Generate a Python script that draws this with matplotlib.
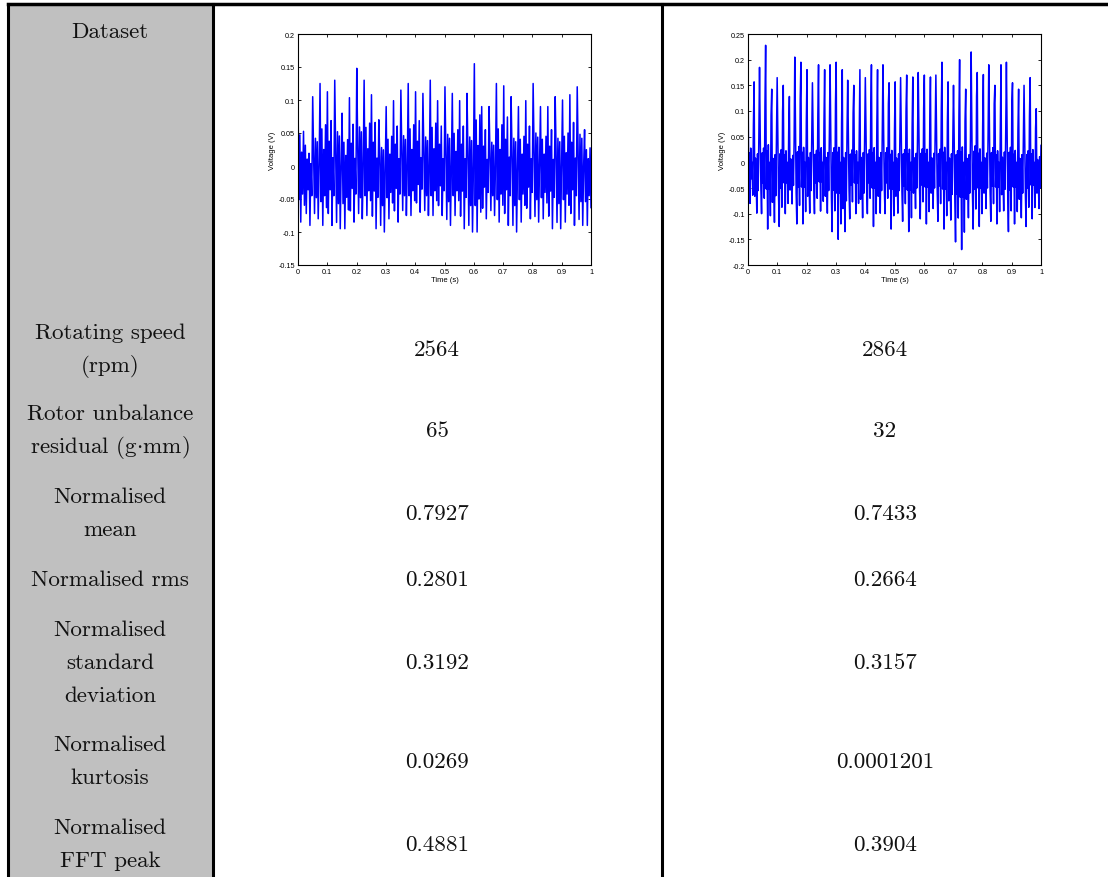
import numpy as np
import matplotlib.pyplot as plt

plt.rcParams['mathtext.fontset'] = 'cm'

# table contents
row_labels = [['Rotating speed', '(rpm)'],
              ['Rotor unbalance', r'residual (g$\cdot$mm)'],
              ['Normalised', 'mean'],
              ['Normalised rms'],
              ['Normalised', 'standard', 'deviation'],
              ['Normalised', 'kurtosis'],
              ['Normalised', 'FFT peak']]
values_a = ['2564', '65', '0.7927', '0.2801', '0.3192', '0.0269', '0.4881']
values_b = ['2864', '32', '0.7433', '0.2664', '0.3157', '0.0001201', '0.3904']

# signal 1: per-cycle peak / trough voltages
peaks_a = [0.105, 0.035, 0.105, 0.125, 0.125, 0.13, 0.08, 0.115, 0.148, 0.13,
           0.12, 0.07, 0.09, 0.11, 0.115, 0.125, 0.125, 0.11, 0.13, 0.11,
           0.12, 0.11, 0.11, 0.11, 0.155, 0.1, 0.09, 0.125, 0.135, 0.105,
           0.09, 0.11, 0.125, 0.09, 0.1, 0.105, 0.1, 0.12, 0.12, 0.055]
troughs_a = [-0.085, -0.09, -0.08, -0.09, -0.09, -0.095, -0.095, -0.085, -0.08, -0.075,
             -0.095, -0.1, -0.08, -0.085, -0.075, -0.075, -0.07, -0.075, -0.075, -0.075,
             -0.09, -0.075, -0.095, -0.1, -0.1, -0.08, -0.075, -0.085, -0.09, -0.1,
             -0.085, -0.08, -0.085, -0.08, -0.095, -0.095, -0.085, -0.09, -0.09, -0.09]
# cycle shapes seen in the plot (fraction of peak when >0, of trough when <0)
shapes_a = [[1.0, -0.6, 0.45, -1.0, 0.2, -0.5, 0.5, -0.7],
            [0.9, -0.8, 0.3, -0.4, 0.55, -1.0, 0.1, -0.5],
            [1.0, 0.2, -0.9, 0.4, -0.6, 0.35, -1.0, 0.0]]

# signal 2: right plot
peaks_b = [0.185, 0.165, 0.185, 0.228, 0.15, 0.165, 0.15, 0.135, 0.205, 0.195,
           0.19, 0.155, 0.19, 0.19, 0.19, 0.195, 0.19, 0.16, 0.15, 0.19,
           0.165, 0.19, 0.19, 0.19, 0.155, 0.165, 0.165, 0.17, 0.175, 0.175,
           0.17, 0.175, 0.17, 0.195, 0.165, 0.15, 0.2, 0.15, 0.215, 0.175,
           0.18, 0.19, 0.15, 0.2, 0.195, 0.155, 0.15, 0.15, 0.165, 0.11]
troughs_b = [-0.08, -0.11, -0.1, -0.13, -0.13, -0.125, -0.1, -0.09, -0.12, -0.12,
             -0.11, -0.1, -0.095, -0.11, -0.135, -0.15, -0.15, -0.11, -0.1, -0.12,
             -0.1, -0.125, -0.11, -0.1, -0.13, -0.11, -0.115, -0.135, -0.1, -0.11,
             -0.12, -0.1, -0.115, -0.13, -0.125, -0.155, -0.17, -0.12, -0.13, -0.125,
             -0.1, -0.115, -0.12, -0.105, -0.135, -0.12, -0.12, -0.125, -0.11, -0.1]
shapes_b = [[1.0, -0.4, 0.1, -1.0, 0.15, -0.4, 0.0, -0.8, 0.4],
            [0.95, -0.6, 0.05, -0.3, -0.9, 0.1, -0.5, 0.3],
            [1.0, 0.3, -0.5, -1.0, 0.1, -0.4, 0.15, -0.7, 0.6]]

yticks_a = [-0.15, -0.1, -0.05, 0, 0.05, 0.1, 0.15, 0.2]
yticks_b = [-0.2, -0.15, -0.1, -0.05, 0, 0.05, 0.1, 0.15, 0.2, 0.25]
xticks = [0, 0.1, 0.2, 0.3, 0.4, 0.5, 0.6, 0.7, 0.8, 0.9, 1]


def build_signal(peaks, troughs, shapes):
    parts = []
    for i, (p, t) in enumerate(zip(peaks, troughs)):
        s = np.array(shapes[i % len(shapes)])
        parts.append(np.where(s > 0, s * p, -s * t))
    v = np.concatenate(parts)
    return np.linspace(0, 1, len(v)), v


def fmt(v):
    s = ('%.2f' % v).rstrip('0').rstrip('.')
    return '0' if s in ('0', '-0') else s


W, H = 1108, 878
fig = plt.figure(figsize=(W / 100, H / 100), dpi=100)

# table background in pixel coords
tab = fig.add_axes([0, 0, 1, 1])
tab.set_xlim(0, W)
tab.set_ylim(H, 0)
tab.axis('off')
tab.add_patch(plt.Rectangle((8, 5), 205, H, color='#c0c0c0', lw=0))
tab.plot([8, W], [5, 5], color='black', lw=2.5)
for x in [8, 213, 662]:
    tab.plot([x, x], [5, H], color='black', lw=2.2)

tfont = dict(family='cmr10', fontsize=16.6, ha='center', va='center', color='#111111')
tab.text(110, 32, 'Dataset', **tfont)
row_y = [350, 431, 514, 580, 663, 762, 845]
line_gap = 33
for lines, y, va, vb in zip(row_labels, row_y, values_a, values_b):
    y0 = y - line_gap * (len(lines) - 1) / 2
    for k, ln in enumerate(lines):
        tab.text(110, y0 + k * line_gap, ln, **tfont)
    tab.text(437, y, va, **tfont)
    tab.text(885, y, vb, **tfont)

# embedded signal plots
for left, (pk, tr, sh), yt in [(298, (peaks_a, troughs_a, shapes_a), yticks_a),
                               (748, (peaks_b, troughs_b, shapes_b), yticks_b)]:
    ax = fig.add_axes([left / W, 1 - 266 / H, 293 / W, 231 / H])
    t, v = build_signal(pk, tr, sh)
    ax.plot(t, v, color='blue', lw=1.1)
    ax.set_xlim(0, 1)
    ax.set_ylim(yt[0], yt[-1])
    ax.set_xticks(xticks)
    ax.set_xticklabels([fmt(x) for x in xticks])
    ax.set_yticks(yt)
    ax.set_yticklabels([fmt(y) for y in yt])
    ax.tick_params(direction='in', length=2.5, width=0.6, labelsize=5.2,
                   top=True, right=True, pad=2)
    for sp in ax.spines.values():
        sp.set_linewidth(0.8)
    ax.set_xlabel('Time (s)', fontsize=5.5, labelpad=1)
    ax.set_ylabel('Voltage (V)', fontsize=5.5, labelpad=2)
    for lab in ax.get_xticklabels() + ax.get_yticklabels():
        lab.set_family('Liberation Sans')
    ax.xaxis.label.set_family('Liberation Sans')
    ax.yaxis.label.set_family('Liberation Sans')

fig.savefig('out.png', dpi=100)
